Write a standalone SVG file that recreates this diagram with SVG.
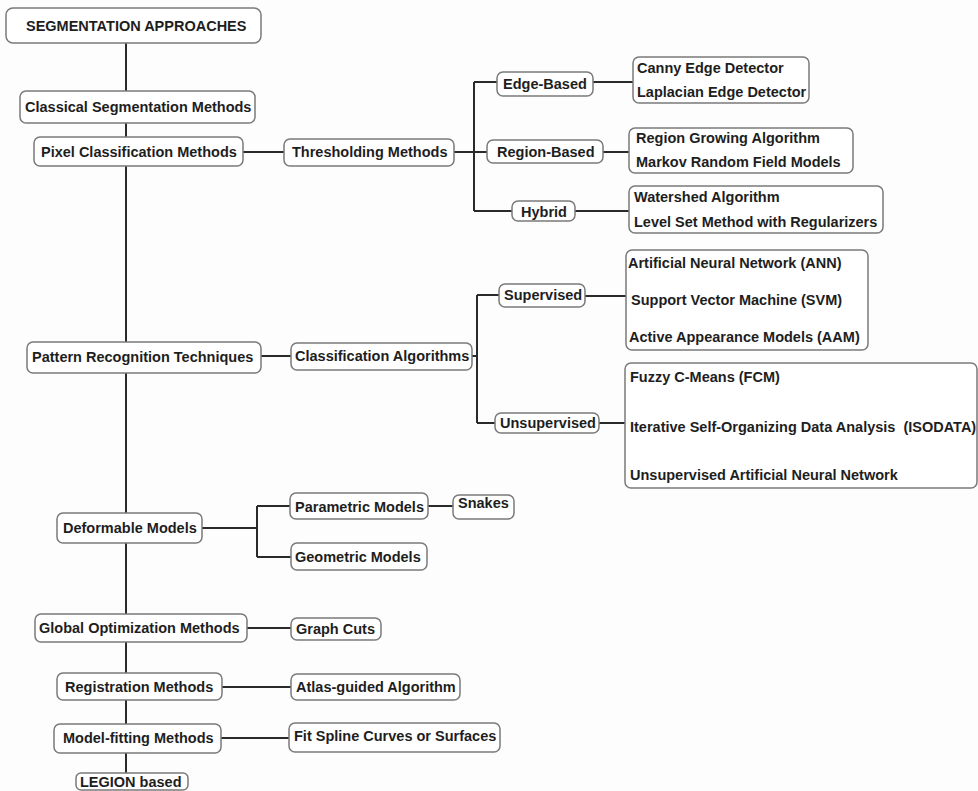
<svg xmlns="http://www.w3.org/2000/svg" width="978" height="791" viewBox="0 0 978 791">
<style>
.b{fill:#fff;stroke:#7a7a7a;stroke-width:1.5}
.t{font-family:"Liberation Sans",Arial,sans-serif;font-weight:bold;font-size:14.5px;fill:#1e1e1e}
.c{stroke:#2a2a2a;stroke-width:2;fill:none}
</style>
<rect width="978" height="791" fill="#fdfdfd"/>
<g id="connectors">
<path class="c" d="M126 43V773"/>
<path class="c" d="M243 152H284M454 152H487M474 82V211M474 82H497M474 211H512"/>
<path class="c" d="M593 82H633M603 152H629M575 211H629"/>
<path class="c" d="M261 356H291M472 356H477M477 295V423M477 295H499M477 423H495"/>
<path class="c" d="M585 296H626M599 423H625"/>
<path class="c" d="M202 528H257M257 506V557M257 506H290M257 557H291M428 506H453"/>
<path class="c" d="M247 628H291M222 687H291M221 738H289"/>
</g>
<g id="seg"><rect class="b" x="6" y="8" width="255" height="35" rx="7"/><text class="t" x="26" y="31">SEGMENTATION APPROACHES</text></g>
<g id="classical"><rect class="b" x="20" y="91" width="235" height="32" rx="6"/><text class="t" x="25" y="112">Classical Segmentation Methods</text></g>
<g id="pixel"><rect class="b" x="34" y="137" width="209" height="29" rx="6"/><text class="t" x="41" y="157">Pixel Classification Methods</text></g>
<g id="thresh"><rect class="b" x="284" y="139" width="170" height="27" rx="6"/><text class="t" x="292" y="157">Thresholding Methods</text></g>
<g id="edge"><rect class="b" x="497" y="72" width="96" height="24" rx="6"/><text class="t" x="503" y="89">Edge-Based</text></g>
<g id="region"><rect class="b" x="487" y="140" width="116" height="23" rx="6"/><text class="t" x="497" y="157">Region-Based</text></g>
<g id="hybrid"><rect class="b" x="512" y="201" width="63" height="20" rx="6"/><text class="t" x="521" y="217">Hybrid</text></g>
<g id="canny"><rect class="b" x="633" y="57" width="176" height="46" rx="6"/><text class="t" x="637" y="73">Canny Edge Detector</text><text class="t" x="637" y="97">Laplacian Edge Detector</text></g>
<g id="regiongrow"><rect class="b" x="629" y="128" width="224" height="45" rx="6"/><text class="t" x="636" y="143">Region Growing Algorithm</text><text class="t" x="636" y="167">Markov Random Field Models</text></g>
<g id="watershed"><rect class="b" x="629" y="186" width="254" height="47" rx="6"/><text class="t" x="634" y="202">Watershed Algorithm</text><text class="t" x="634" y="227">Level Set Method with Regularizers</text></g>
<g id="pattern"><rect class="b" x="27" y="342" width="234" height="31" rx="6"/><text class="t" x="32" y="362">Pattern Recognition Techniques</text></g>
<g id="classification"><rect class="b" x="291" y="343" width="181" height="27" rx="6"/><text class="t" x="295" y="361">Classification Algorithms</text></g>
<g id="supervised"><rect class="b" x="499" y="284" width="86" height="23" rx="6"/><text class="t" x="504" y="300">Supervised</text></g>
<g id="unsupervised"><rect class="b" x="495" y="413" width="104" height="20" rx="6"/><text class="t" x="500" y="428">Unsupervised</text></g>
<g id="ann"><rect class="b" x="626" y="250" width="242" height="100" rx="6"/><text class="t" x="628" y="268">Artificial Neural Network (ANN)</text><text class="t" x="631" y="305">Support Vector Machine (SVM)</text><text class="t" x="629" y="342">Active Appearance Models (AAM)</text></g>
<g id="fcm"><rect class="b" x="625" y="363" width="352" height="125" rx="6"/><text class="t" x="630" y="382">Fuzzy C-Means (FCM)</text><text class="t" x="630" y="432" xml:space="preserve">Iterative Self-Organizing Data Analysis  (ISODATA)</text><text class="t" x="630" y="480">Unsupervised Artificial Neural Network</text></g>
<g id="deformable"><rect class="b" x="57" y="513" width="145" height="30" rx="6"/><text class="t" x="63" y="533">Deformable Models</text></g>
<g id="parametric"><rect class="b" x="290" y="493" width="138" height="26" rx="6"/><text class="t" x="295" y="512">Parametric Models</text></g>
<g id="geometric"><rect class="b" x="291" y="543" width="136" height="27" rx="6"/><text class="t" x="295" y="562">Geometric Models</text></g>
<g id="snakes"><rect class="b" x="453" y="495" width="61" height="24" rx="6"/><text class="t" x="458" y="508">Snakes</text></g>
<g id="global"><rect class="b" x="35" y="614" width="212" height="28" rx="6"/><text class="t" x="39" y="633">Global Optimization Methods</text></g>
<g id="graphcuts"><rect class="b" x="291" y="618" width="90" height="22" rx="6"/><text class="t" x="296" y="634">Graph Cuts</text></g>
<g id="registration"><rect class="b" x="57" y="673" width="165" height="27" rx="6"/><text class="t" x="65" y="692">Registration Methods</text></g>
<g id="atlas"><rect class="b" x="291" y="674" width="169" height="26" rx="6"/><text class="t" x="296" y="692">Atlas-guided Algorithm</text></g>
<g id="modelfit"><rect class="b" x="54" y="724" width="167" height="29" rx="6"/><text class="t" x="63" y="743">Model-fitting Methods</text></g>
<g id="fitspline"><rect class="b" x="289" y="723" width="211" height="29" rx="6"/><text class="t" x="294" y="741">Fit Spline Curves or Surfaces</text></g>
<g id="legion"><rect class="b" x="76" y="773" width="112" height="17" rx="5"/><text class="t" x="80" y="787">LEGION based</text></g>
</svg>
